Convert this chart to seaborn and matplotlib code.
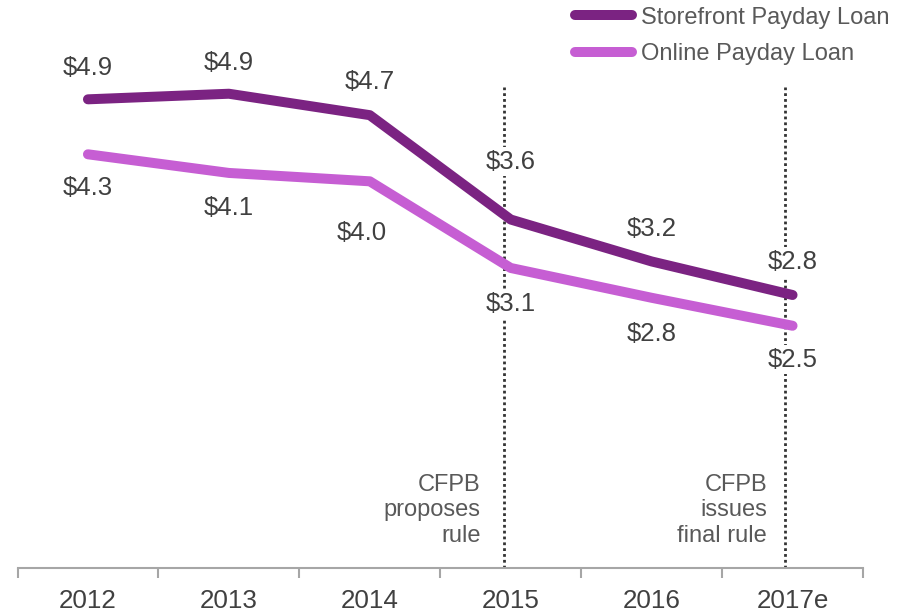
import pandas as pd
import matplotlib.pyplot as plt
import seaborn as sns

# Values (billions of dollars)
years = ["2012", "2013", "2014", "2015", "2016", "2017e"]
storefront = [4.90, 4.96, 4.73, 3.61, 3.16, 2.80]
online = [4.31, 4.11, 4.02, 3.09, 2.77, 2.47]
storefront_labels = ["$4.9", "$4.9", "$4.7", "$3.6", "$3.2", "$2.8"]
online_labels = ["$4.3", "$4.1", "$4.0", "$3.1", "$2.8", "$2.5"]
series_names = ["Storefront Payday Loan", "Online Payday Loan"]
events = {"2015": "CFPB\nproposes\nrule", "2017e": "CFPB\nissues\nfinal rule"}

df = pd.DataFrame({
    "year": years * 2,
    "value": storefront + online,
    "series": [series_names[0]] * len(years) + [series_names[1]] * len(years),
})

colors = {series_names[0]: "#7B2382", series_names[1]: "#C65ED3"}
text_dark = "#404040"
text_gray = "#595959"

sns.set_style("white")
plt.rcParams["font.family"] = ["Liberation Sans", "DejaVu Sans"]

fig = plt.figure(figsize=(9.08, 6.12), dpi=100)
ax = fig.add_axes([17.5 / 908, 1 - 568 / 612, 845.5 / 908, 568 / 612])

sns.lineplot(data=df, x="year", y="value", hue="series", palette=colors,
             linewidth=7.2, solid_capstyle="round", legend=False, ax=ax, zorder=3)

ax.set_xlim(-0.5, 5.5)
ax.set_ylim(-0.13, 5.966)

# dotted event markers
for name in events:
    i = years.index(name)
    ax.vlines(i - 0.05, -0.13, 5.03, colors="#333333", linestyles=(0, (1, 1.1)),
              linewidth=2.0, zorder=1)

# event notes, right-aligned left of the dotted line
note_dx = {"2015": -0.215, "2017e": -0.18}
for name, note in events.items():
    i = years.index(name)
    ax.text(i + note_dx[name], 0.49, note, ha="right", va="center",
            fontsize=17, color=text_gray, linespacing=1.2, zorder=2)

# data labels
store_off = [31, 31, 33, 58, 32, 33]
online_off = [34, 35, 52, 36, 36, 34]
online_dx = [0, 0, -8, 0, 0, 0]
box = dict(boxstyle="square,pad=0.1", fc="white", ec="none")
for i in range(len(years)):
    ax.annotate(storefront_labels[i], (i, storefront[i]), xytext=(0, store_off[i]),
                textcoords="offset pixels", ha="center", va="center",
                fontsize=18.5, color=text_dark, bbox=box, zorder=2)
    ax.annotate(online_labels[i], (i, online[i]), xytext=(online_dx[i], -online_off[i]),
                textcoords="offset pixels", ha="center", va="center",
                fontsize=18.5, color=text_dark, bbox=box, zorder=2)

# axis styling: only the bottom line, ticks between categories
for side in ["top", "left", "right"]:
    ax.spines[side].set_visible(False)
ax.spines["bottom"].set_color("#A6A6A6")
ax.spines["bottom"].set_linewidth(1.5)
ax.set_yticks([])
ax.set_xticks(range(len(years)))
ax.set_xticklabels(years)
ax.set_xticks([k - 0.5 for k in range(len(years) + 1)], minor=True)
ax.tick_params(axis="x", which="major", length=0, pad=15, labelsize=18.7, labelcolor=text_dark)
ax.tick_params(axis="x", which="minor", length=7, width=1.5, color="#A6A6A6", bottom=True)
ax.set_xlabel("")
ax.set_ylabel("")

# legend
handles = [plt.Line2D([], [], color=colors[n], linewidth=7.2, solid_capstyle="round")
           for n in series_names]
fig.legend(handles, series_names, loc="upper right", bbox_to_anchor=(893 / 908, 1 - 3 / 612),
           frameon=False, fontsize=17, handlelength=2.4, handletextpad=0.4,
           labelspacing=0.62, borderpad=0.15, borderaxespad=0, labelcolor=text_gray)

fig.savefig("out.png", dpi=100)
